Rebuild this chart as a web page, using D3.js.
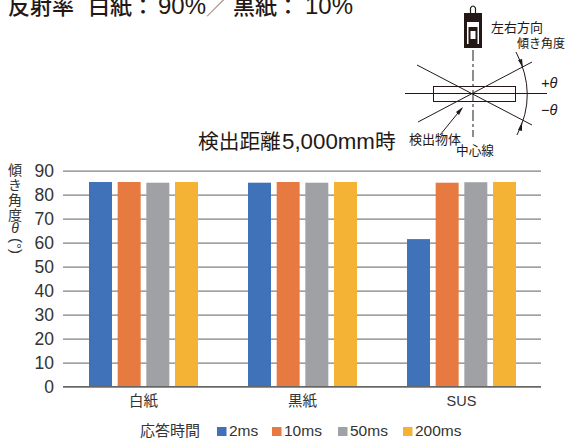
<!DOCTYPE html>
<html><head><meta charset="utf-8">
<script src="https://cdn.jsdelivr.net/npm/d3@7"></script>
<style>html,body{margin:0;padding:0;background:#fff}svg{display:block}
text{font-family:"Liberation Sans","Noto Sans CJK JP",sans-serif}</style></head>
<body><div id="c"></div>
<script>
const categories = ["白紙","黒紙","SUS"];
const seriesNames = ["2ms","10ms","50ms","200ms"];
const seriesColors = ["#3f72b8","#e67a41","#a0a1a4","#f5b335"];
const v2ms = [85.3,85,61.5];
const v10ms = [85.3,85.3,85];
const v50ms = [85,85,85.2];
const v200ms = [85.3,85.3,85.3];
const seriesValues = [v2ms,v10ms,v50ms,v200ms];
const yTicks = [0,10,20,30,40,50,60,70,80,90];

const jp='"Noto Sans CJK JP",sans-serif';
const lat='"Liberation Sans",sans-serif';
const ink="#231815", txt="#333";
const svg=d3.select("#c").append("svg").attr("width",566).attr("height",443);
const x=d3.scaleBand().domain(categories).range([64,541]);
const xs=d3.scaleBand().domain(seriesNames).range([-54.5,54.5]).paddingInner(0.198).paddingOuter(0);
const y=d3.scaleLinear().domain([0,90]).range([386.7,170.7]);

// title
const t1=svg.append("text").attr("y",14).attr("fill",ink).attr("font-size",22).attr("font-family",jp).attr("font-weight",500);
[["反射率",8,jp,22,ink],["白紙：",88,jp,22,ink],["90%",158,lat,24,ink],["／",206,jp,22,"#888"],["黒紙：",233,jp,22,ink],["10%",305,lat,24,ink]].forEach(s=>{
  t1.append("tspan").attr("x",s[1]).attr("font-family",s[2]).attr("font-size",s[3]).attr("fill",s[4]).text(s[0]);
});
const t2=svg.append("text").attr("y",148.5).attr("fill",ink).attr("font-size",20.5).attr("font-family",jp);
[["検出距離",198,jp,20.7],["5,000mm",282,lat,22.3],["時",375,jp,20.7]].forEach(s=>{
  t2.append("tspan").attr("x",s[1]).attr("font-family",s[2]).attr("font-size",s[3]).text(s[0]);
});

// grid & axis
const yAxis=d3.axisLeft(y).tickValues(yTicks).tickSize(-(541-63)).tickPadding(9);
const gy=svg.append("g").attr("transform","translate(63,0)").call(yAxis);
gy.select(".domain").remove();
gy.selectAll(".tick line").attr("stroke","#808080").attr("stroke-width",1.2);
gy.selectAll(".tick text").attr("font-size",17.5).attr("fill",txt);

// bars
seriesNames.forEach((s,i)=>{
  svg.append("g").selectAll("rect").data(seriesValues[i]).join("rect")
    .attr("x",(d,j)=>x(categories[j])+x.bandwidth()/2+xs(s))
    .attr("width",xs.bandwidth())
    .attr("y",d=>y(d)).attr("height",d=>y(0)-y(d))
    .attr("fill",seriesColors[i]);
});
svg.append("line").attr("x1",63).attr("x2",541).attr("y1",y(0)).attr("y2",y(0)).attr("stroke","#666").attr("stroke-width",1.2);

// category labels
const xAxis=d3.axisBottom(x).tickSize(0).tickPadding(9);
const gx=svg.append("g").attr("transform",`translate(0,${y(0)})`).call(xAxis);
gx.select(".domain").remove();
gx.selectAll(".tick text").attr("font-size",14.5).attr("fill",txt).attr("font-family",jp);

// y title (vertical)
["傾","き","角","度"].forEach((t,i)=>svg.append("text").attr("x",15).attr("y",174.5+i*15).attr("text-anchor","middle")
  .attr("font-size",14).attr("fill",txt).attr("font-family",jp).text(t));
svg.append("text").attr("x",15).attr("y",233).attr("text-anchor","middle").attr("font-size",14)
  .attr("font-style","italic").attr("fill",txt).text("θ");
svg.append("text").attr("transform","translate(11,238) rotate(90)").attr("font-size",15)
  .attr("fill",txt).text("(°)");

// legend
svg.append("text").attr("x",140).attr("y",436).attr("font-size",15).attr("fill",txt).attr("font-family",jp).text("応答時間");
const lx=[217,272,338,403];
seriesNames.forEach((s,i)=>{
  svg.append("rect").attr("x",lx[i]).attr("y",427).attr("width",9.5).attr("height",9).attr("fill",seriesColors[i]);
  svg.append("text").attr("x",lx[i]+12).attr("y",435.5).attr("font-size",15.5).attr("fill",txt).text(s);
});

// diagram
const dg=svg.append("g").attr("stroke",ink).attr("fill","none").attr("stroke-width",1);
dg.append("line").attr("x1",405).attr("y1",93.5).attr("x2",547).attr("y2",93.5);
dg.append("rect").attr("x",433.5).attr("y",86.5).attr("width",82).attr("height",15);
dg.append("line").attr("x1",417).attr("y1",65).attr("x2",532).attr("y2",125);
dg.append("line").attr("x1",418).attr("y1",122).attr("x2",532).attr("y2",62);
dg.append("line").attr("x1",473).attr("y1",50).attr("x2",473).attr("y2",137).attr("stroke-dasharray","11 3 3 3");
dg.append("path").attr("d","M516,52 Q538,94 517,135");
dg.append("line").attr("x1",462).attr("y1",108).attr("x2",440).attr("y2",135);
const ah=svg.append("g").attr("fill",ink);
ah.append("path").attr("d","M463,107 L456,112 L459,115 Z");
ah.append("path").attr("d","M523,68 L518,60 L522,59 Z");
ah.append("path").attr("d","M522,122 L518,130 L522,131 Z");
// sensor
const sn=svg.append("g");
sn.append("path").attr("d","M470.5,13 V8 Q473,4 475.5,8 V13").attr("fill","none").attr("stroke",ink).attr("stroke-width",1.2);
sn.append("rect").attr("x",464).attr("y",13).attr("width",18).attr("height",35).attr("fill",ink);
sn.append("rect").attr("x",467).attr("y",22).attr("width",12).attr("height",22).attr("fill","#fff");
sn.append("rect").attr("x",468.5).attr("y",27).attr("width",9).attr("height",17).attr("fill",ink);
sn.append("rect").attr("x",470.5).attr("y",31).attr("width",5).attr("height",8).attr("fill","#fff");
// diagram text
[["左右方向",491,32,13],["傾き角度",517,48,12],["検出物体",409,144,13],["中心線",456,155,12.7]].forEach(l=>
  svg.append("text").attr("x",l[1]).attr("y",l[2]).attr("font-size",l[3]).attr("fill",ink).attr("font-family",jp).text(l[0]));
svg.append("text").attr("x",541).attr("y",88).attr("font-size",14.5).attr("fill",ink).attr("font-style","italic").text("+θ");
svg.append("text").attr("x",541).attr("y",115).attr("font-size",14.5).attr("fill",ink).attr("font-style","italic").text("−θ");
</script></body></html>
